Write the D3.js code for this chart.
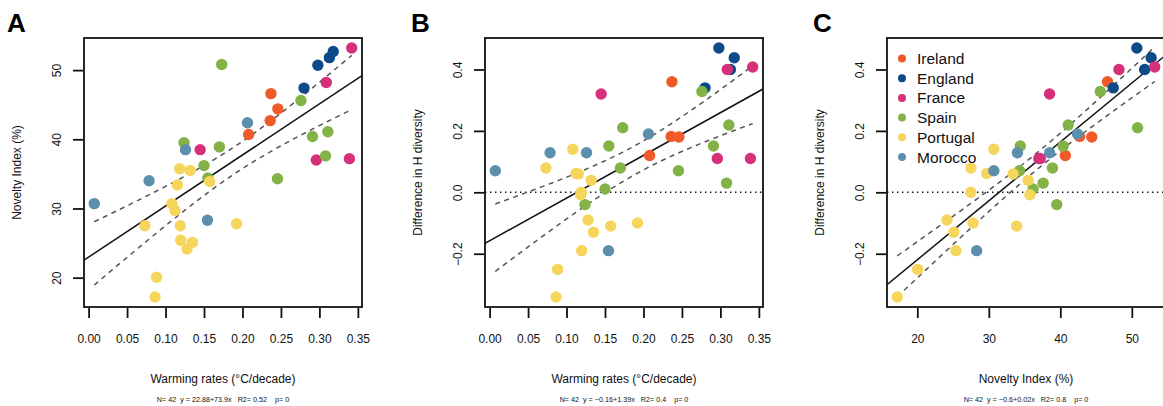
<!DOCTYPE html>
<html>
<head>
<meta charset="utf-8">
<script src="https://cdn.jsdelivr.net/npm/d3@7"></script>
<style>
  body { margin: 0; background: #fff; }
  text { font-family: "Liberation Sans", Arial, sans-serif; }
</style>
</head>
<body>
<div id="chart"></div>
<script>
// countries, in legend order
const countries = ["Ireland", "England", "France", "Spain", "Portugal", "Morocco"];
const countryColors = ["#f05a28", "#0c4a8a", "#d6307a", "#83b347", "#f6d55c", "#5b8fad"];

// one entry per site (42): country index, warming rate, novelty index, difference in H diversity
const site = [
  0, 0, 0, 0,
  1, 1, 1, 1,
  2, 2, 2, 2, 2,
  3, 3, 3, 3, 3, 3, 3, 3, 3, 3,
  4, 4, 4, 4, 4, 4, 4, 4, 4, 4, 4, 4, 4, 4,
  5, 5, 5, 5, 5
];
const warming = [
  0.237, 0.246, 0.236, 0.208,
  0.298, 0.318, 0.313, 0.280,
  0.342, 0.309, 0.145, 0.296, 0.339,
  0.173, 0.276, 0.124, 0.170, 0.150, 0.155, 0.2455, 0.291, 0.311, 0.308,
  0.1184, 0.132, 0.1574, 0.1154, 0.1082, 0.1124, 0.0732, 0.1192, 0.1923, 0.1197, 0.135, 0.128, 0.0884, 0.0864,
  0.0074, 0.0786, 0.126, 0.1545, 0.2065
];
const novelty = [
  46.6, 44.4, 42.7, 40.7,
  50.7, 52.7, 51.8, 47.4,
  53.2, 48.2, 38.5, 37.0, 37.2,
  50.8, 45.6, 39.5, 38.9, 36.2, 34.4, 34.3, 40.4, 41.1, 37.6,
  35.75, 35.5, 33.9, 33.4, 30.7, 29.7, 27.5, 27.5, 27.8, 25.4, 25.1, 24.15, 20.05, 17.2,
  30.7, 34.0, 38.5, 28.3, 42.4
];
const hDiff = [
  0.36, 0.18, 0.182, 0.12,
  0.47, 0.438, 0.40, 0.34,
  0.408, 0.40, 0.32, 0.11, 0.11,
  0.21, 0.328, -0.04, 0.079, 0.011, 0.151, 0.07, 0.151, 0.219, 0.03,
  -0.008, 0.039, -0.11, 0.06, 0.14, 0.061, 0.079, 0.0, -0.10, -0.19, -0.13, -0.09, -0.251, -0.341,
  0.07, 0.129, 0.129, -0.19, 0.19
];

const warmingTicks = [0, 0.05, 0.10, 0.15, 0.20, 0.25, 0.30, 0.35];
const noveltyTicks = [20, 30, 40, 50];
const hDiffTicks = [-0.2, 0, 0.2, 0.4];

const panelLetters = ["A", "B", "C"];
const fitNotes = [
  "N= 42  y = 22.88+73.9x   R2= 0.52    p= 0",
  "N= 42  y = \u22120.16+1.39x   R2= 0.4    p= 0",
  "N= 42  y = \u22120.6+0.02x   R2= 0.8    p= 0"
];

const width = 1163;
const height = 406;
const t975 = 2.021; // t quantile, df = 40

const svg = d3.select("#chart")
  .append("svg")
  .attr("width", width)
  .attr("height", height);

// R style axis range: data extent padded 4% each side
function rRange(values) {
  const [lo, hi] = d3.extent(values);
  const pad = (hi - lo) * 0.04;
  return [lo - pad, hi + pad];
}

function linFit(xs, ys) {
  const n = xs.length;
  const mx = d3.mean(xs), my = d3.mean(ys);
  let sxx = 0, sxy = 0;
  xs.forEach((x, i) => { sxx += (x - mx) ** 2; sxy += (x - mx) * (ys[i] - my); });
  const b = sxy / sxx;
  const a = my - b * mx;
  let sse = 0;
  xs.forEach((x, i) => { sse += (ys[i] - a - b * x) ** 2; });
  const s = Math.sqrt(sse / (n - 2));
  return { a, b, s, n, mx, sxx };
}

const panels = [
  { x: warming, y: novelty, xTicks: warmingTicks, yTicks: noveltyTicks, xFmt: d3.format(".2f"), yFmt: d3.format("d"),
    xTitle: "Warming rates (\u00b0C/decade)", yTitle: "Novelty Index (%)", left: 84, zero: false, legend: false },
  { x: warming, y: hDiff, xTicks: warmingTicks, yTicks: hDiffTicks, xFmt: d3.format(".2f"), yFmt: d3.format(".1f"),
    xTitle: "Warming rates (\u00b0C/decade)", yTitle: "Difference in H diversity", left: 485, zero: true, legend: false },
  { x: novelty, y: hDiff, xTicks: noveltyTicks, yTicks: hDiffTicks, xFmt: d3.format("d"), yFmt: d3.format(".1f"),
    xTitle: "Novelty Index (%)", yTitle: "Difference in H diversity", left: 887, zero: true, legend: true }
];

const plotTop = 38, plotH = 269, plotW = 278;

panels.forEach((p, k) => {
  const g = svg.append("g").attr("transform", `translate(${p.left},${plotTop})`);

  const xScale = d3.scaleLinear().domain(rRange(p.x)).range([0, plotW]);
  const yScale = d3.scaleLinear().domain(rRange(p.y)).range([plotH, 0]);

  const clipId = "clip" + k;
  g.append("clipPath").attr("id", clipId)
    .append("rect").attr("width", plotW).attr("height", plotH);

  const plotG = g.append("g").attr("clip-path", `url(#${clipId})`);

  if (p.zero) {
    plotG.append("line")
      .attr("x1", 0).attr("x2", plotW)
      .attr("y1", yScale(0)).attr("y2", yScale(0))
      .attr("stroke", "#111")
      .attr("stroke-width", 1.6)
      .attr("stroke-dasharray", "1.4,3.6");
  }

  // regression line and 95% confidence band
  const f = linFit(p.x, p.y);
  const [x0, x1] = xScale.domain();
  plotG.append("line")
    .attr("x1", xScale(x0)).attr("y1", yScale(f.a + f.b * x0))
    .attr("x2", xScale(x1)).attr("y2", yScale(f.a + f.b * x1))
    .attr("stroke", "#111")
    .attr("stroke-width", 1.5);

  const [dMin, dMax] = d3.extent(p.x);
  const grid = d3.range(0, 101).map(i => dMin + (dMax - dMin) * i / 100);
  [-1, 1].forEach(sign => {
    const band = grid.map(x => {
      const se = f.s * Math.sqrt(1 / f.n + (x - f.mx) ** 2 / f.sxx);
      return [x, f.a + f.b * x + sign * t975 * se];
    });
    plotG.append("path")
      .attr("d", d3.line().x(d => xScale(d[0])).y(d => yScale(d[1]))(band))
      .attr("fill", "none")
      .attr("stroke", "#555")
      .attr("stroke-width", 1.5)
      .attr("stroke-dasharray", "5,4.5");
  });

  // points
  plotG.selectAll("circle")
    .data(site)
    .enter()
    .append("circle")
    .attr("cx", (d, i) => xScale(p.x[i]))
    .attr("cy", (d, i) => yScale(p.y[i]))
    .attr("r", 5.7)
    .attr("fill", d => countryColors[d]);

  // box
  g.append("rect")
    .attr("width", plotW).attr("height", plotH)
    .attr("fill", "none")
    .attr("stroke", "#111")
    .attr("stroke-width", 1.8);

  // x axis
  const xAxisG = g.append("g")
    .attr("transform", `translate(0,${plotH + 1})`)
    .call(d3.axisBottom(xScale).tickValues(p.xTicks).tickFormat(p.xFmt).tickSize(10).tickPadding(16));
  xAxisG.select(".domain").remove();
  xAxisG.selectAll("line").attr("stroke", "#111").attr("stroke-width", 1.8);
  xAxisG.selectAll("text").attr("font-size", 12).attr("fill", "#111")
    .attr("font-family", "Liberation Sans, Arial, sans-serif");

  // y axis, labels parallel to the axis
  const yAxisG = g.append("g")
    .attr("transform", "translate(-1,0)")
    .call(d3.axisLeft(yScale).tickValues(p.yTicks).tickFormat(p.yFmt).tickSize(10));
  yAxisG.select(".domain").remove();
  yAxisG.selectAll("line").attr("stroke", "#111").attr("stroke-width", 1.8);
  yAxisG.selectAll("text")
    .attr("x", null)
    .attr("dy", "0.35em")
    .attr("text-anchor", "middle")
    .attr("transform", "translate(-26,0) rotate(-90)")
    .attr("font-size", 12).attr("fill", "#111")
    .attr("font-family", "Liberation Sans, Arial, sans-serif");

  // titles
  g.append("text")
    .attr("x", plotW / 2).attr("y", 345)
    .attr("text-anchor", "middle")
    .attr("font-size", 12).attr("fill", "#111")
    .text(p.xTitle);

  g.append("text")
    .attr("transform", `translate(-67,${plotH / 2}) rotate(-90)`)
    .attr("dy", "0.35em")
    .attr("text-anchor", "middle")
    .attr("font-size", 12).attr("fill", "#111")
    .text(p.yTitle);

  g.append("text")
    .attr("x", plotW / 2).attr("y", 364)
    .attr("text-anchor", "middle")
    .attr("font-size", 7.2).attr("fill", "#111")
    .style("white-space", "pre")
    .text(fitNotes[k]);

  g.append("text")
    .attr("x", p.left === 84 ? -77 : -74).attr("y", -6.5)
    .attr("font-size", 26).attr("font-weight", "bold").attr("fill", "#000")
    .text(panelLetters[k]);

  if (p.legend) {
    const leg = g.append("g").attr("transform", "translate(15,20.5)");
    const rows = leg.selectAll("g")
      .data(countries)
      .enter()
      .append("g")
      .attr("transform", (d, i) => `translate(0,${i * 19.7})`);
    rows.append("circle").attr("r", 4).attr("fill", (d, i) => countryColors[i]);
    rows.append("text")
      .attr("x", 15).attr("dy", "0.36em")
      .attr("font-size", 15.5).attr("fill", "#111")
      .text(d => d);
  }
});
</script>
</body>
</html>
